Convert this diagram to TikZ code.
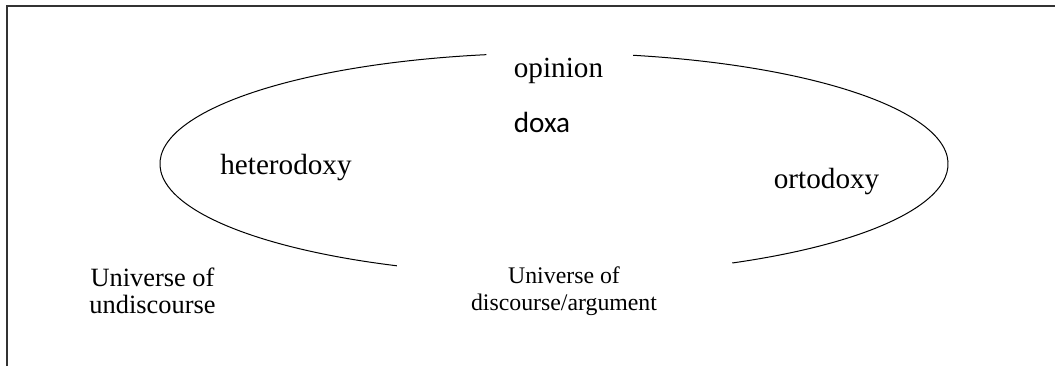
\documentclass[tikz,border=0pt]{standalone}
\usepackage{fontspec}
\setmainfont{Liberation Serif}
\newfontfamily\calfont{Carlito}
\usetikzlibrary{calc}
\begin{document}
\begin{tikzpicture}[x=0.5pt,y=-0.5pt,
  lbl/.style={inner sep=0pt,anchor=base,font=\fontsize{14.6}{17}\selectfont},
  small/.style={inner sep=0pt,anchor=base,align=center,font=\fontsize{13.2}{13.5}\selectfont},
  smaller/.style={inner sep=0pt,anchor=base,align=center,font=\fontsize{11.9}{13.35}\selectfont},
  curve/.style={line width=0.5pt,black}]
\useasboundingbox (0,0) rectangle (1055,366);
\draw[line width=0.7pt,black!80] (7,366) -- (7,6) -- (1055,6);
% ellipse arcs
\coordinate (c) at (554,164);
\draw[curve] ($(c)+(99.9:394 and -111)$) arc[start angle=99.9,end angle=246.5,x radius=197pt,y radius=55.5pt];
\draw[curve] ($(c)+(296.9:394 and -111)$) arc[start angle=296.9,end angle=438.4,x radius=197pt,y radius=55.5pt];
\node[lbl] (opinion) at (558.5,77) {opinion};
\node[lbl,font=\calfont\fontsize{14.6}{17}\selectfont] (doxa) at (542,132) {doxa};
\node[lbl] (hetero) at (286,174) {heterodoxy};
\node[lbl] (orto) at (826.6,188) {ortodoxy};
\node[small] (undisc) at (152.5,313) {Universe of\\undiscourse};
\node[smaller] (disc) at (564,310) {Universe of\\discourse/argument};
\end{tikzpicture}
\end{document}
